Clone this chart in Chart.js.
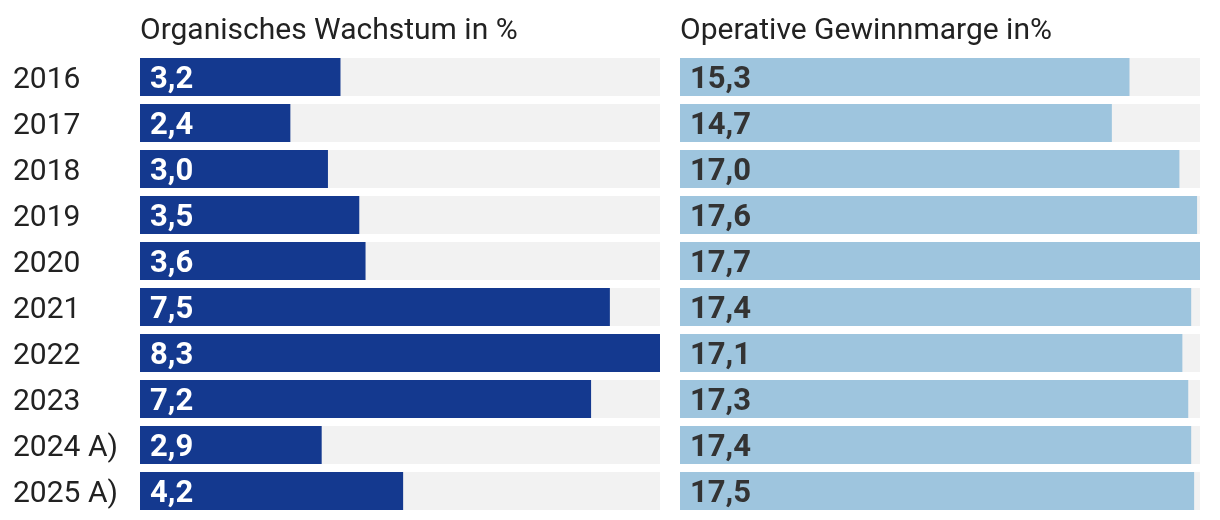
<!DOCTYPE html>
<html>
<head>
<meta charset="utf-8">
<script src="https://cdn.jsdelivr.net/npm/chart.js@4"></script>
<style>
  body { margin: 0; background: #fff; }
  #wrap { position: relative; width: 1220px; height: 520px; }
  #wachstum { position: absolute; left: 0; top: 0; }
  #marge { position: absolute; left: 680px; top: 0; }
</style>
</head>
<body>
<div id="wrap">
  <canvas id="wachstum" width="660" height="520"></canvas>
  <canvas id="marge" width="540" height="520"></canvas>
</div>
<script>
const jahre = ['2016', '2017', '2018', '2019', '2020', '2021', '2022', '2023', '2024 A)', '2025 A)'];
const wachstum = [3.2, 2.4, 3.0, 3.5, 3.6, 7.5, 8.3, 7.2, 2.9, 4.2];
const marge = [15.3, 14.7, 17.0, 17.6, 17.7, 17.4, 17.1, 17.3, 17.4, 17.5];

const fontName = 'Roboto, "Noto Sans", sans-serif';

// zahlen in die balken schreiben, deutsches komma
const wertLabels = {
  id: 'wertLabels',
  afterDatasetsDraw(chart, args, opts) {
    const ctx = chart.ctx;
    const meta = chart.getDatasetMeta(1);
    ctx.save();
    ctx.font = 'bold 31px ' + fontName;
    ctx.fillStyle = opts.color;
    ctx.textAlign = 'left';
    ctx.textBaseline = 'middle';
    meta.data.forEach((bar, i) => {
      const v = chart.data.datasets[1].data[i];
      ctx.fillText(v.toFixed(1).replace('.', ','), bar.base + 10, bar.y + 3);
    });
    ctx.restore();
  }
};

function machChart(id, werte, farbe, textFarbe, titel, mitJahren) {
  const max = Math.max(...werte);
  return new Chart(document.getElementById(id), {
    type: 'bar',
    data: {
      labels: jahre,
      datasets: [{
        data: werte.map(() => max),
        backgroundColor: '#f2f2f2',
        order: 2
      }, {
        data: werte,
        backgroundColor: farbe,
        order: 1
      }]
    },
    options: {
      indexAxis: 'y',
      responsive: false,
      animation: false,
      layout: { padding: { left: mitJahren ? 13 : 0, right: mitJahren ? 0 : 20, bottom: 6 } },
      datasets: {
        bar: { grouped: false, categoryPercentage: 1, barPercentage: 38 / 46 }
      },
      scales: {
        x: { display: false, min: 0, max: max },
        y: {
          display: mitJahren,
          grid: { display: false },
          border: { display: false },
          ticks: {
            crossAlign: 'far',
            labelOffset: 3,
            color: '#222',
            font: { family: fontName, size: 30 }
          },
          afterFit: (scale) => {
            scale.width = mitJahren ? 127 : 0;
            scale.paddingTop = 0;
            scale.paddingBottom = 0;
          }
        }
      },
      plugins: {
        legend: { display: false },
        tooltip: { enabled: false },
        title: {
          display: true,
          text: titel,
          align: 'start',
          fullSize: false,
          color: '#222',
          font: { family: fontName, size: 30, weight: 'normal' },
          padding: { top: 13, bottom: 5 }
        },
        wertLabels: { color: textFarbe }
      }
    },
    plugins: [wertLabels]
  });
}

machChart('wachstum', wachstum, '#14398f', '#ffffff', 'Organisches Wachstum in %', true);
machChart('marge', marge, '#9ec5de', '#333333', 'Operative Gewinnmarge in%', false);
</script>
</body>
</html>
